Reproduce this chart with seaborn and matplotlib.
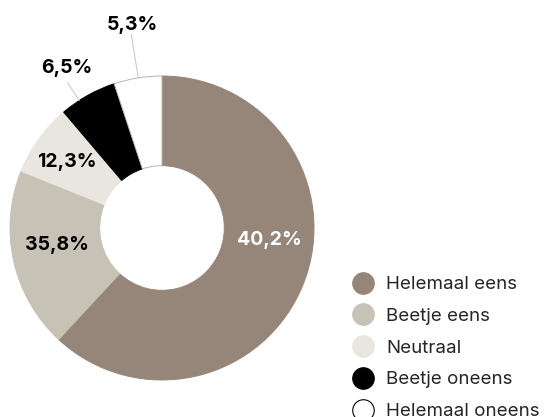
import matplotlib.pyplot as plt
import numpy as np
import seaborn as sns
from matplotlib.lines import Line2D

categories = ['Helemaal eens', 'Beetje eens', 'Neutraal', 'Beetje oneens', 'Helemaal oneens']
# wedge sizes as drawn in the picture (share of the ring, %)
slice_sizes = [61.9, 19.2, 7.7, 6.1, 5.1]
labels = ['40,2%', '35,8%', '12,3%', '6,5%', '5,3%']

colors = ['#968679', '#c6c2b5', '#e9e6e0', '#000000', '#ffffff']
edge_colors = ['#968679', '#c6c2b5', '#e9e6e0', '#000000', '#b5b5b5']
text_colors = ['white', 'black', 'black', 'black', 'black']
# label placement in axes data units
label_pos = [(0.704, -0.08), (-0.69, -0.11), (-0.625, 0.434), (-0.625, 1.05), (-0.197, 1.336)]
# leader lines: angle clockwise from top (deg), outer radius
leader_deg = [None, None, None, 327, 351]
leader_r = [None, None, None, 1.14, 1.29]

sns.set_theme(style='white')
plt.rcParams['font.family'] = ['Inter', 'DejaVu Sans']

fig = plt.figure(figsize=(5.47, 4.17), dpi=100)
W, H = 547, 417
cx, cy, r = 162, 417 - 228, 152
ax = fig.add_axes([(cx - r) / W, (cy - r) / H, 2 * r / W, 2 * r / H])

wedges, _ = ax.pie(slice_sizes, colors=colors, startangle=90, counterclock=False,
                   radius=1, wedgeprops=dict(width=0.59, linewidth=0.7))
for w, ec in zip(wedges, edge_colors):
    w.set_edgecolor(ec)

for lab, tc, pos, deg, lr in zip(labels, text_colors, label_pos, leader_deg, leader_r):
    ax.text(pos[0], pos[1], lab, ha='center', va='center', fontsize=14,
            fontweight='bold', color=tc)
    if deg is not None:
        a = np.deg2rad(deg)
        ax.plot([np.sin(a), lr * np.sin(a)], [np.cos(a), lr * np.cos(a)],
                color='#cccccc', linewidth=0.8, clip_on=False)

ax.set_xlim(-1, 1)
ax.set_ylim(-1, 1)
ax.set_aspect('equal')
ax.axis('off')

handles = [Line2D([0], [0], marker='o', linestyle='none', markersize=15.5,
                  markerfacecolor=c, markeredgecolor=('black' if c == '#ffffff' else c),
                  markeredgewidth=0.8)
           for c in colors]
fig.legend(handles, categories, loc='upper left', bbox_to_anchor=(352 / W, 1 - 276 / H),
           frameon=False, fontsize=13.5, labelspacing=0.78, handletextpad=0.61,
           handlelength=1.2, borderaxespad=0, borderpad=0)

fig.savefig('out.png', dpi=100)
